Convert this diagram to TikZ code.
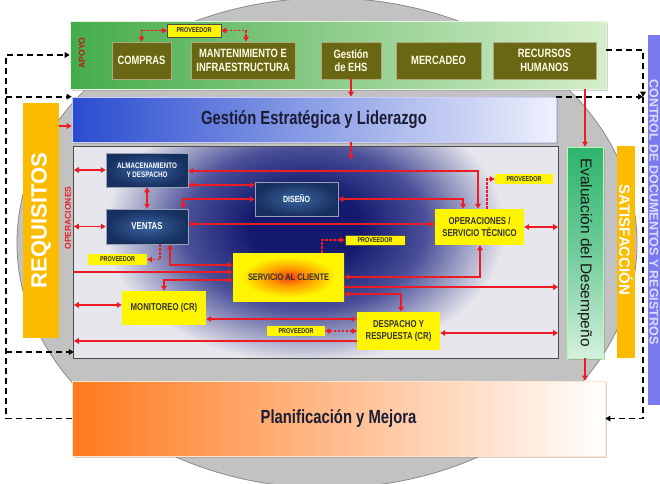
\documentclass[tikz,border=0pt]{standalone}
\usepackage{fontspec}
\setmainfont{Liberation Sans}
\newfontfamily\nf{Liberation Sans}[FakeStretch=0.78]
\usetikzlibrary{arrows.meta,shadows,calc}
\definecolor{rd}{HTML}{EC1C24}
\definecolor{oliveb}{HTML}{6A6714}
\definecolor{navyc}{HTML}{3A63A0}
\definecolor{navye}{HTML}{173060}
\definecolor{yel}{HTML}{FFF500}
\definecolor{servr}{HTML}{F03A10}
\definecolor{servo}{HTML}{FF9A00}
\definecolor{amber}{HTML}{FBBC00}
\definecolor{opsbg}{HTML}{E6E6EC}
\definecolor{blob}{HTML}{141A6E}
\definecolor{blobm}{HTML}{4A4F98}
\definecolor{ctrl}{HTML}{7A7AEE}
\definecolor{ctrltxt}{HTML}{DCDCFF}
\definecolor{txt}{HTML}{1C1C34}
\definecolor{ell}{HTML}{C2C2C2}
\definecolor{ellb}{HTML}{8A8A8A}
\definecolor{gL}{HTML}{45AC4A}
\definecolor{gR}{HTML}{D6EECB}
\definecolor{bL}{HTML}{2A4CD0}
\definecolor{bR}{HTML}{EEF1FC}
\definecolor{evT}{HTML}{2DB46C}
\definecolor{evB}{HTML}{D5F0DF}
\definecolor{plO}{HTML}{FF7A1E}
\definecolor{plM}{HTML}{FBC9A6}
\pgfdeclareradialshading{servsh}{\pgfpoint{0bp}{0bp}}{color(0bp)=(servr); color(9bp)=(servo); color(21bp)=(yel); color(50bp)=(yel)}
\pgfdeclareradialshading{navysh}{\pgfpoint{0bp}{0bp}}{color(0bp)=(navyc); color(25bp)=(navye); color(50bp)=(navye)}
\pgfdeclareradialshading{blobsh}{\pgfpoint{0bp}{0bp}}{color(0bp)=(blob); color(7bp)=(blob); color(15bp)=(blobm); color(25bp)=(opsbg); color(50bp)=(opsbg)}
\begin{document}
\begin{tikzpicture}[x=1pt,y=-1pt,>={Triangle[width=5.5pt,length=5pt]},
  rl/.style={draw=rd,line width=1.6pt},
  ra/.style={rl,->},
  rb/.style={rl,<->},
  rdl/.style={draw=rd,line width=1.1pt,dash pattern=on 2.5pt off 1.5pt},
  rda/.style={rdl,->},
  rdb/.style={rdl,<->},
  bk/.style={draw=black,line width=1.7pt,dash pattern=on 6pt off 4pt},
  bka/.style={bk,->},
  obox/.style={fill=oliveb,draw=oliveb!55!white,line width=0.6pt,text=white!90!yellow,
     font=\nf\bfseries\fontsize{12}{13.5}\selectfont,align=center,inner sep=0pt,minimum height=37pt},
  nbox/.style={shade,shading=navysh,draw=navye!45!white,line width=0.5pt,text=white,
     align=center,inner sep=0pt},
  ybox/.style={fill=yel,text=black!80,align=center,inner sep=0pt},
  pbox/.style={fill=yel,text=black!85,font=\nf\bfseries\fontsize{7}{8}\selectfont,inner sep=0pt},
  shd/.style={drop shadow={opacity=0.35,shadow xshift=2pt,shadow yshift=-2pt}}
]
\fill[white] (0,0) rectangle (660,483);
\useasboundingbox (0,0) rectangle (660,483);
\draw[fill=ell,draw=ellb,line width=0.8pt] (327,243) ellipse [x radius=310,y radius=245];

% control bar
\node[fill=ctrl,minimum width=12pt,minimum height=370pt,inner sep=0pt] (ctrl) at (654,220) {};
\node[rotate=-90,text=ctrltxt,font=\bfseries\fontsize{12.5}{13}\selectfont,inner sep=0pt] (ctrlt) at (654,212) {CONTROL DE DOCUMENTOS Y REGISTROS};

% apoyo
\node[shd,left color=gL,right color=gR,draw=gR!60!white,line width=0.6pt,minimum width=536pt,minimum height=68pt,inner sep=0pt] (apoyo) at (338,55) {};
\node[rotate=90,text=rd!80!black,font=\bfseries\fontsize{8.5}{9}\selectfont,inner sep=0pt] (apoyot) at (82,53) {APOYO};
\node[obox,minimum width=59pt] (compras) at (141.5,60.5) {COMPRAS};
\node[obox,minimum width=104pt] (mant) at (243,60.5) {MANTENIMIENTO E\\INFRAESTRUCTURA};
\node[obox,minimum width=60pt] (ehs) at (351,60.5) {Gestión\\de EHS};
\node[obox,minimum width=85pt] (merc) at (438.5,60.5) {MERCADEO};
\node[obox,minimum width=103pt] (rrhh) at (544.5,60.5) {RECURSOS\\HUMANOS};
\node[pbox,draw=black!70,line width=0.5pt,minimum width=54pt,minimum height=13pt] (provT) at (194,30.5) {PROVEEDOR};
\draw[rdb] (compras.north) |- (provT.west);
\draw[rdb] ([xshift=3pt]mant.north) |- (provT.east);

% gestion estrategica
\node[shd,left color=bL,right color=bR,draw=white!80!blue,line width=0.6pt,minimum width=484pt,minimum height=45pt,inner sep=0pt,text=txt,font=\nf\bfseries\fontsize{19}{20}\selectfont] (gest) at (314,119.5) {Gestión Estratégica y Liderazgo};

% requisitos
\node[fill=amber,minimum width=36pt,minimum height=235pt,inner sep=0pt] (req) at (41,220.5) {};
\node[rotate=90,text=white,font=\bfseries\fontsize{22}{24}\selectfont,inner sep=0pt] (reqt) at (req.center) {REQUISITOS};
\node[rotate=90,text=rd,font=\bfseries\fontsize{8.5}{9}\selectfont,inner sep=0pt] (opt) at (68,218) {OPERACIONES};

% operations box
\node[fill=opsbg,minimum width=484pt,minimum height=211pt,inner sep=0pt] (ops) at (316,252.5) {};
\begin{scope}
  \clip (ops.north west) rectangle (ops.south east);
  \shade[shading=blobsh] (305,228) ellipse [x radius=200,y radius=135];
\end{scope}
\draw[draw=black!70,line width=0.8pt] (ops.north west) rectangle (ops.south east);

% evaluacion, satisfaccion
\node[shd,top color=evT,bottom color=evB,middle color=evT!60!evB,draw=white!70!green,line width=0.5pt,minimum width=36pt,minimum height=211pt,inner sep=0pt] (eval) at (585,252.5) {};
\node[rotate=-90,text=black!90,font=\fontsize{15.5}{17}\selectfont,inner sep=0pt] (evalt) at (eval.center) {Evaluación del Desempeño};
\node[fill=amber,minimum width=18pt,minimum height=212pt,inner sep=0pt] (sat) at (626,252) {};
\node[rotate=-90,text=white,font=\bfseries\fontsize{15}{16}\selectfont,inner sep=0pt] (satt) at (626,240) {SATISFACCIÓN};

% planificacion
\node[shd,left color=plO,middle color=plM,right color=white,draw=white!80!orange,line width=0.6pt,minimum width=533pt,minimum height=75pt,inner sep=0pt,text=txt,font=\nf\bfseries\fontsize{19}{20}\selectfont] (plan) at (338.5,418.5) {Planificación y Mejora};

% inner nodes
\node[nbox,minimum width=82pt,minimum height=34pt,font=\nf\bfseries\fontsize{8}{9.5}\selectfont] (alm) at (147,170) {ALMACENAMIENTO\\Y DESPACHO};
\node[nbox,minimum width=82pt,minimum height=35pt,font=\nf\bfseries\fontsize{10}{11}\selectfont] (ven) at (147,226.5) {VENTAS};
\node[nbox,minimum width=83pt,minimum height=34pt,font=\nf\bfseries\fontsize{9}{10}\selectfont] (dis) at (296.5,199) {DISEÑO};
\node[pbox,minimum width=59pt,minimum height=11pt] (provL) at (117.5,259.5) {PROVEEDOR};
\node[ybox,shade,shading=servsh,minimum width=111pt,minimum height=48pt,font=\nf\bfseries\fontsize{9.5}{10}\selectfont] (serv) at (288.5,277) {SERVICIO AL CLIENTE};
\node[pbox,draw=black!70,line width=0.5pt,minimum width=60pt,minimum height=10pt] (provS) at (375,240) {PROVEEDOR};
\node[ybox,minimum width=89pt,minimum height=36pt,font=\nf\bfseries\fontsize{10}{12}\selectfont] (oper) at (479.5,227) {OPERACIONES /\\SERVICIO TÉCNICO};
\node[pbox,minimum width=58pt,minimum height=10pt] (provR) at (524,179) {PROVEEDOR};
\node[ybox,minimum width=84pt,minimum height=34pt,font=\nf\bfseries\fontsize{10}{11}\selectfont] (mon) at (164,308) {MONITOREO (CR)};
\node[pbox,minimum width=58pt,minimum height=10pt] (provB) at (296,331) {PROVEEDOR};
\node[ybox,minimum width=83pt,minimum height=38pt,font=\nf\bfseries\fontsize{10}{12.5}\selectfont] (desp) at (398.5,331) {DESPACHO Y\\RESPUESTA (CR)};

% main red arrows
\draw[ra] (ehs.south) -- (ehs.south |- gest.north);
\draw[ra] (ehs.south |- gest.south) -- ($(ehs.south |- ops.north)+(0,13)$);
\draw[ra] (eval.north |- apoyo.south) -- (eval.north);
\draw[ra] (eval.south) -- (eval.south |- plan.north);
\coordinate (rq) at (0,126);
\draw[ra] (req.east |- rq) -- (gest.west |- rq);

% black dashed loops
\coordinate (L) at (6,0);
\coordinate (R) at (643,0);
\draw[bka] (plan.west) -| (L |- apoyo.west) -- (apoyo.west);
\draw[bka] (L |- gest.north west) -- (gest.north west);
\draw[bka] (L |- 0,352) -- (ops.west |- 0,352);
\draw[bka] (apoyo.east |- 0,50) -| (R |- gest.north east);
\draw[bka] (gest.north east) -- (R |- gest.north east);
\draw[bka] (R |- gest.north east) |- (plan.east);

% operations connectors
\draw[rb] (ops.west |- alm.west) -- (alm.west);
\draw[rb] (ops.west |- ven.west) -- (ven.west);
\draw[rb] (alm.south) -- (ven.north);
\draw[rb] (alm.east |- 0,185) -- (dis.west |- 0,185);
\draw[rb] (alm.east |- 0,171) -| (478,0 |- oper.north);
\draw[rb] (183,0 |- ven.north) |- (dis.west);
\draw[rb] (dis.east) -| (463,0 |- oper.north);
\draw[rb] (ven.east |- 0,224) -- (oper.west |- 0,224);
\draw[rda] (160,0 |- ven.south) |- (provL.east);
\draw[rb] (170,0 |- ven.south) |- (serv.west |- 0,265);
\draw[ra] (ops.west |- 0,272) -- (serv.west |- 0,272);
\draw[rb] (mon.north) |- (serv.west |- 0,280);
\draw[rb] (ops.west |- 0,305) -- (mon.west |- 0,305);
\draw[rb] (mon.east |- 0,319) -- (desp.west |- 0,319);
\draw[rdb] (provB.east) -- (desp.west |- provB.east);
\draw[ra] (desp.west |- 0,341) -- (ops.west |- 0,341);
\draw[rb] (480,0 |- oper.south) |- (serv.east);
\draw[ra] (serv.east |- 0,287) -- (ops.east |- 0,287);
\draw[rb] (serv.east |- 0,294) -| (401,0 |- desp.north);
\draw[rb] (desp.east |- 0,333) -- (ops.east |- 0,333);
\draw[rda] (322,0 |- serv.north) |- (provS.west);
\draw[rda] (487,0 |- oper.north) |- (provR.west);
\draw[rb] (oper.east) -- (ops.east |- oper.east);
\end{tikzpicture}
\end{document}
